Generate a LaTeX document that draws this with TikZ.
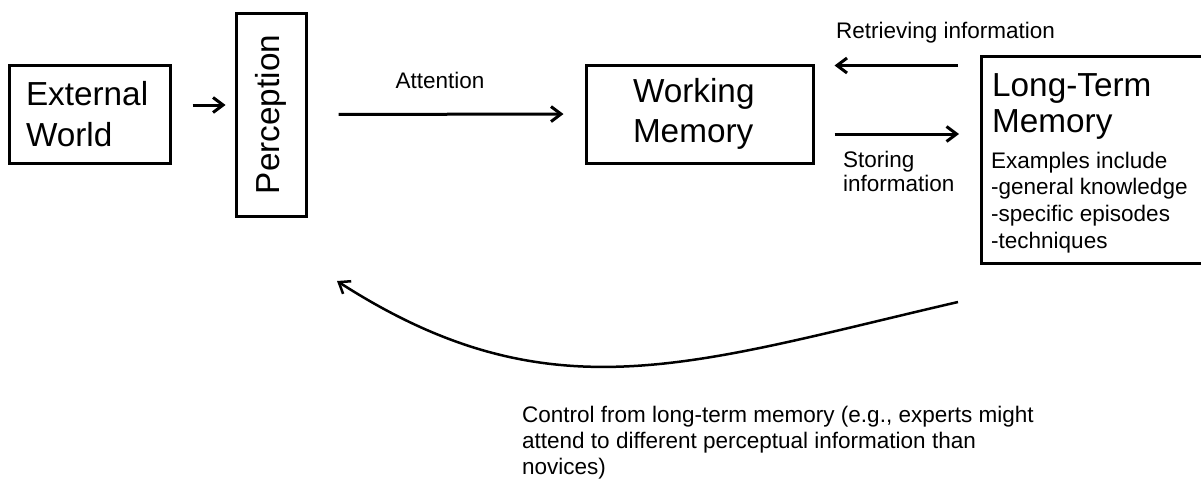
\documentclass[tikz,border=0pt]{standalone}
\usepackage{fontspec}
\setmainfont{Liberation Sans}
\usetikzlibrary{arrows.meta}
% large box titles at 33.3pt with a chosen line distance; small notes at 22.5pt
\newcommand\boxfont[1]{\fontsize{33.3}{#1}\selectfont}
\newcommand\notefont[1]{\fontsize{22.5}{#1}\selectfont}
\begin{document}
\begin{tikzpicture}[x=1pt,y=-1pt,
  box/.style={draw, line width=3pt, inner sep=0pt},
  arr/.style={line width=3pt, -{Straight Barb[length=10pt,width=15pt]}},
  note/.style={font=\notefont{26.5}, inner sep=0pt}]
\useasboundingbox (0,0) rectangle (1201,479);

% boxes
\node[box, minimum width=161pt, minimum height=98pt, text width=127pt,
      inner xsep=17pt, align=flush left, font=\boxfont{41}]
      (ext) at (89.5,114) {External\\World};
\node[box, rotate=90, minimum width=203pt, minimum height=70pt,
      font=\boxfont{40}] (perc) at (271,114.5) {Perception};
\node[box, minimum width=227pt, minimum height=98pt, text width=133pt,
      inner xsep=47pt, align=flush left, font=\boxfont{40}]
      (wm) at (699.5,114) {Working\\Memory};
\node[box, anchor=north west, minimum width=235pt, minimum height=207pt]
      (ltm) at (980,55) {};
\node[anchor=north west, inner sep=0pt, align=left, font=\boxfont{36}]
      (ltmtitle) at (992,73) {Long-Term\\Memory};
\node[note, anchor=north west, align=left, font=\notefont{26.7}]
      (ltmlist) at (991,151.5)
      {Examples include\\-general knowledge\\-specific episodes\\-techniques};

% labels
\node[note, anchor=base] (att) at (440,88.3) {Attention};
\node[note, anchor=base west] (ret) at (836,38.2) {Retrieving information};
\node[note, anchor=north west, align=left, font=\notefont{24}]
      (sto) at (843,150.5) {Storing\\information};
\node[note, anchor=north west, align=left, font=\notefont{26}] (ctl) at (522,406)
      {Control from long-term memory (e.g., experts might\\attend to different perceptual information than\\novices)};

% arrow heights and the ends of the feedback curve
\coordinate (yep) at (0,105);
\coordinate (yret) at (0,65.5);
\coordinate (ysto) at (0,134);
\coordinate (cs) at (958,302);
\coordinate (ce) at (337,281);

% connectors
\draw[arr, shorten <=21pt, shorten >=9pt] (ext.east |- yep) -- (perc.north |- yep);
\draw[arr, shorten <=31pt, shorten >=21pt] (perc.south) -- (wm.west);
\draw[arr, shorten <=22pt, shorten >=20pt] (ltm.west |- yret) -- (wm.east |- yret);
\draw[arr, shorten <=20pt, shorten >=21pt] (wm.east |- ysto) -- (ltm.west |- ysto);
\draw[arr, line width=2.5pt] (cs) .. controls (690,364) and (550,418) .. (ce);
\end{tikzpicture}
\end{document}
